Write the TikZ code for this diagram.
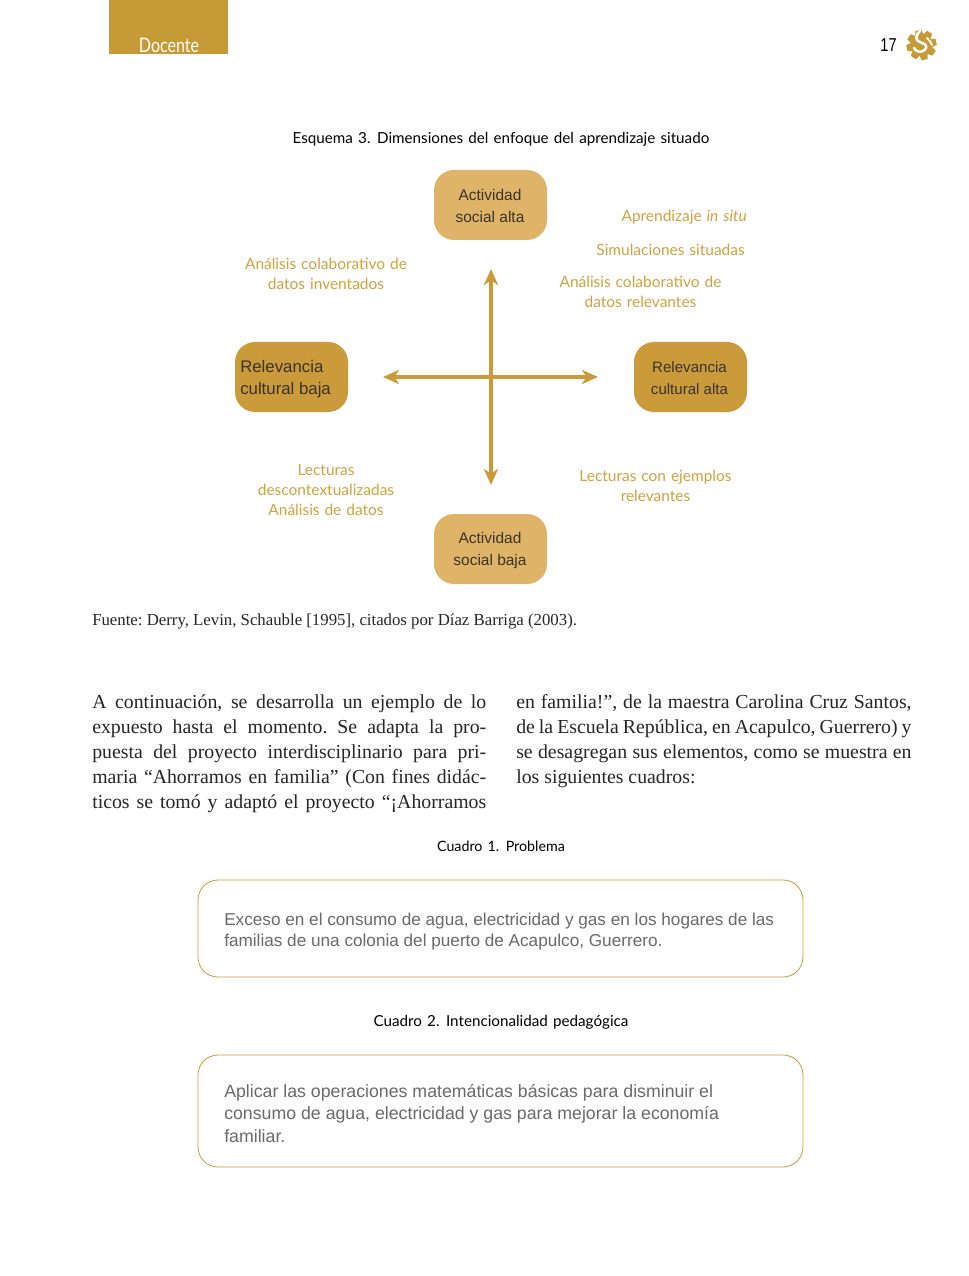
\documentclass[tikz,border=0pt]{standalone}
\usepackage{fontspec}
\usepackage{graphicx}
\usetikzlibrary{arrows.meta}
\setmainfont{Liberation Serif}
\newfontfamily\boxfont{Liberation Sans}
\newfontfamily\labfont{Lato}
\definecolor{gold}{HTML}{CB9B3B}
\definecolor{lightgold}{HTML}{E0B468}
\definecolor{band}{HTML}{C69A36}
\definecolor{lab}{HTML}{D2A23F}
\definecolor{graytxt}{HTML}{6A6A6A}
\definecolor{dark}{HTML}{3A3326}
\newlength{\colw}\setlength{\colw}{295.5pt}
\newlength{\colx}\setlength{\colx}{296.5pt}
\newcommand{\jl}[1]{\hbox to \colw{#1}}
\newcommand{\jx}[1]{\hbox to \colx{#1}}
\newcommand{\widesp}[1]{\spaceskip=#1 plus 1pt\relax}
\tikzset{x=0.75pt,y=-0.75pt,
  darkbox/.style={fill=gold,rounded corners=15pt,minimum width=84.75pt,minimum height=52.5pt,inner sep=0pt},
  lightbox/.style={darkbox,fill=lightgold},
  boxtext/.style={inner sep=0pt,align=center,text=dark,font=\boxfont\fontsize{11.6}{16}\selectfont},
  lab/.style={text=lab,font=\labfont\fontsize{11.6}{15}\selectfont,align=center,inner sep=0pt,execute at begin node={\widesp{3.7pt}}},
  capt/.style={text=black,font=\labfont\fontsize{11.4}{15}\selectfont,inner sep=0pt,execute at begin node={\widesp{3.9pt}}},
  framebox/.style={draw=gold,line width=0.6pt,rounded corners=15pt,minimum width=453.75pt,inner sep=0pt},
  gtext/.style={text=graytxt,font=\boxfont\fontsize{12.88}{15.8}\selectfont,align=left,inner sep=0pt,anchor=west},
  axis/.style={draw=gold,line width=2.6pt,{Stealth[length=12pt,width=10.5pt,inset=3.5pt]}-{Stealth[length=12pt,width=10.5pt,inset=3.5pt]}},
  body/.style={inner sep=0pt,anchor=north west,align=left,font=\fontsize{14.85}{18.75}\selectfont\frenchspacing,text=black!85}
}
\begin{document}
\begin{tikzpicture}
\useasboundingbox (0,0) rectangle (969,1276);
\fill[white] (0,0) rectangle (969,1276);
% header
\fill[band] (109,0) rectangle (228,54);
\node[text=white,inner sep=0pt,font=\labfont\fontsize{15}{15}\selectfont] (doc) at (169,45.5) {\scalebox{0.8}[1]{Docente}};
\node[text=black,inner sep=0pt,font=\boxfont\fontsize{14}{15}\selectfont] (pg) at (888.5,45) {\scalebox{0.78}[1]{17}};
% logo
\coordinate (lg) at (921.5,45);
\fill[band] (lg) circle (11);
\foreach \a in {12,57,102,147,192,237,282,327}{
  \fill[band,shift={(lg)},rotate=\a] (9,-4.4) -- (15,-3) -- (15,3) -- (9,4.4) -- cycle;
}
\draw[white,line width=1.9pt,line cap=round] (920,31) .. controls (915,36) and (915,41) .. (921,42.5) .. controls (926,44) and (928,47) .. (924.5,50) .. controls (921,53) and (916,52) .. (914,48);
\draw[white,line width=1.4pt,line cap=round] (927,38) .. controls (929,40) and (931,42) .. (932,45);
% caption
\node[capt] (cap) at (501,139.5) {Esquema 3. Dimensiones del enfoque del aprendizaje situado};
% boxes
\node[lightbox] (top) at (490.5,205) {};
\node[boxtext] (topt) at (490,206) {Actividad\\social alta};
\node[lightbox] (bot) at (490.5,549) {};
\node[boxtext,font=\boxfont\fontsize{11.6}{16.9}\selectfont] (bott) at (490,550.5) {Actividad\\social baja};
\node[darkbox] (lft) at (291.5,377) {};
\node[boxtext,align=left,anchor=west,font=\boxfont\fontsize{12.6}{16.5}\selectfont] (lftt) at (240,379.5) {Relevancia\\cultural baja};
\node[darkbox] (rgt) at (690.5,377) {};
\node[boxtext,font=\boxfont\fontsize{11.3}{16.5}\selectfont] (rgtt) at (689.5,378) {Relevancia\\cultural alta};
% axes
\coordinate (vt) at (491,269);
\coordinate (vb) at (491,485);
\coordinate (hl) at (383,377);
\coordinate (hr) at (598,377);
\draw[axis] (vt) -- (vb);
\draw[axis] (hl) -- (hr);
% labels
\node[lab,anchor=east] (l1) at (747,217.5) {Aprendizaje \textit{in situ}};
\node[lab,anchor=east] (l2) at (745,250) {Simulaciones situadas};
\node[lab] (l3) at (640.5,292) {Análisis colaborativo de\\datos relevantes};
\node[lab] (l4) at (326,274) {Análisis colaborativo de\\datos inventados};
\node[lab] (l5) at (326,490) {Lecturas\\descontextualizadas\\Análisis de datos};
\node[lab] (l6) at (655.5,486) {Lecturas con ejemplos\\relevantes};
% source
\node[inner sep=0pt,anchor=west,font=\fontsize{12.58}{15}\selectfont\frenchspacing,text=black!85] (src) at (92,621.5) {Fuente: Derry, Levin, Schauble [1995], citados por Díaz Barriga (2003).};
% body columns
\node[body] (c1) at (92,694) {\jl{A continuación, se desarrolla un ejemplo de lo}\\\jl{expuesto hasta el momento. Se adapta la pro-}\\\jl{puesta del proyecto interdisciplinario para pri-}\\\jl{maria “Ahorramos en familia” (Con fines didác-}\\\jl{ticos se tomó y adaptó el proyecto “¡Ahorramos}};
\node[body] (c2) at (516,694) {\jx{en familia!”, de la maestra Carolina Cruz Santos,}\\\jx{de la Escuela República, en Acapulco, Guerrero) y}\\\jx{se desagregan sus elementos, como se muestra en}\\los siguientes cuadros:};
% cuadros
\node[capt,font=\labfont\fontsize{10.7}{15}\selectfont] (q1) at (501,846.5) {Cuadro 1. Problema};
\node[framebox,minimum height=72.75pt] (b1) at (500.5,928.5) {};
\node[gtext] (t1) at (224,932) {Exceso en el consumo de agua, electricidad y gas en los hogares de las\\familias de una colonia del puerto de Acapulco, Guerrero.};
\node[capt] (q2) at (501,1022.5) {Cuadro 2. Intencionalidad pedagógica};
\node[framebox,minimum height=84pt] (b2) at (500.5,1111) {};
\node[gtext,font=\boxfont\fontsize{13.3}{16.9}\selectfont] (t2) at (224,1113.5) {Aplicar las operaciones matemáticas básicas para disminuir el\\consumo de agua, electricidad y gas para mejorar la economía\\familiar.};
\end{tikzpicture}
\end{document}
